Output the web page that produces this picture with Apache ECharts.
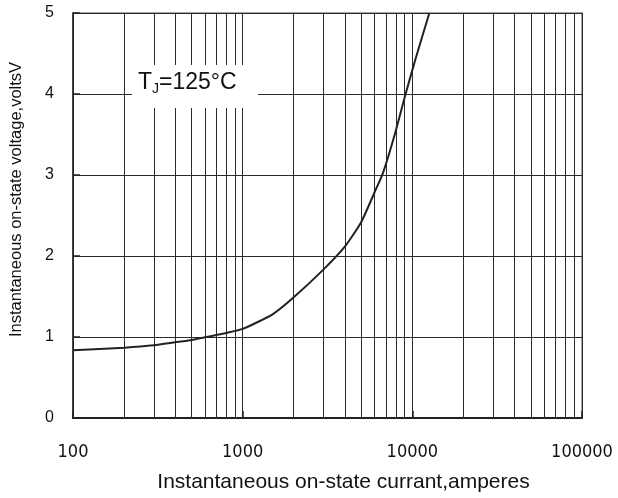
<!DOCTYPE html>
<html>
<head>
<meta charset="utf-8">
<script src="https://cdn.jsdelivr.net/npm/echarts@6/dist/echarts.min.js"></script>
<style>
  html, body { margin: 0; padding: 0; background: #fff; }
  #chart { width: 618px; height: 498px; }
</style>
</head>
<body>
<div id="chart"></div>
<script>
// on-state characteristic, Tj = 125 C
var currentA = [100, 200, 300, 400, 500, 600, 700, 800, 1000, 1500, 2000, 3000, 4000, 5000, 6000, 6700, 7900, 9100, 10400, 12600];
var voltageV = [0.836, 0.868, 0.897, 0.934, 0.963, 0.996, 1.025, 1.05, 1.10, 1.28, 1.49, 1.835, 2.115, 2.42, 2.79, 3.02, 3.51, 3.99, 4.42, 5.0];

// minor vertical grid lines (2..9 of each decade)
var minorGrid = [];
[100, 1000, 10000].forEach(function (d) {
  for (var k = 2; k <= 9; k++) minorGrid.push(d * k);
});

var chart = echarts.init(document.getElementById('chart'));
var gridColor = '#2a2a2a';

var option = {
  animation: false,
  backgroundColor: '#fff',
  grid: {
    left: 72, right: 36, top: 13, bottom: 80,
    show: true, borderColor: '#888', borderWidth: 1.5
  },
  xAxis: {
    type: 'log', logBase: 10, min: 100, max: 100000,
    name: 'Instantaneous on-state currant,amperes',
    nameLocation: 'middle', nameGap: 54,
    nameTextStyle: { fontFamily: 'Liberation Sans', fontSize: 21, color: '#111', padding: [0, 0, 0, 32] },
    axisLine: { lineStyle: { color: '#222', width: 2 } },
    axisTick: { inside: true, length: 7, lineStyle: { color: '#222', width: 1.5 } },
    axisLabel: {
      margin: 25, fontFamily: 'DejaVu Sans Condensed', fontSize: 18, color: '#111',
      formatter: function (v) { return String(Math.round(v)); }
    },
    splitLine: { show: true, lineStyle: { color: gridColor, width: 1 } }
  },
  yAxis: {
    type: 'value', min: 0, max: 5, interval: 1,
    name: 'Instantaneous on-state voltage,voltsV',
    nameLocation: 'middle', nameGap: 48,
    nameTextStyle: { fontFamily: 'Liberation Sans', fontSize: 16.5, color: '#111', padding: [0, 0, 0, 32] },
    axisLine: { show: true, lineStyle: { color: '#222', width: 1.5 } },
    axisTick: { inside: true, length: 7, lineStyle: { color: '#222', width: 1.5 } },
    axisLabel: { margin: 19, fontFamily: 'Liberation Sans', fontSize: 16, color: '#111' },
    splitLine: { show: true, lineStyle: { color: gridColor, width: 1 } }
  },
  series: [
    {
      type: 'line',
      data: [],
      z: 1,
      silent: true,
      markLine: {
        silent: true,
        symbol: ['none', 'none'],
        label: { show: false },
        lineStyle: { color: gridColor, width: 1, type: 'solid' },
        data: minorGrid.map(function (v) { return { xAxis: v }; })
      }
    },
    {
      type: 'line',
      z: 5,
      data: currentA.map(function (c, i) { return [c, voltageV[i]]; }),
      smooth: 0.2,
      showSymbol: false,
      lineStyle: { color: '#222', width: 2 }
    }
  ],
  graphic: [
    {
      type: 'rect', z: 100,
      shape: { x: 132, y: 65, width: 126, height: 43 },
      style: { fill: '#fff' }
    },
    {
      type: 'text', z: 101, x: 138, y: 83,
      style: {
        text: '{a|T}{s|J}{a|=125°C}',
        verticalAlign: 'middle',
        rich: {
          a: { fontFamily: 'Liberation Sans', fontSize: 23, fill: '#111' },
          s: { fontFamily: 'Liberation Sans', fontSize: 14, fill: '#111', padding: [12, 0, 0, 0] }
        }
      }
    }
  ]
};

chart.setOption(option);
</script>
</body>
</html>
